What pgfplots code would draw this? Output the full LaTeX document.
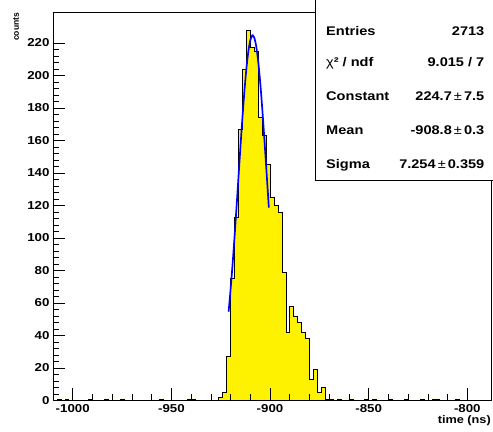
\documentclass[border=0pt]{standalone}
\usepackage{fontspec}
\setmainfont{Liberation Sans}[FakeStretch=1.16]
\newfontfamily\plainsans{Liberation Sans}
\usepackage{pgfplots}
\pgfplotsset{compat=1.18}
\begin{document}
\begin{tikzpicture}[x=1bp,y=1bp]
\begin{axis}[
  scale only axis, width=438bp, height=388.5bp,
  xmin=-1010, xmax=-788, ymin=0, ymax=239,
  xtick={-1000,-950,-900,-850,-800},
  xticklabels={-1000,-950,-900,-850,-800},
  minor x tick num=4,
  ytick={0,20,40,60,80,100,120,140,160,180,200,220},
  yticklabels={0,20,40,60,80,100,120,140,160,180,200,220},
  minor y tick num=4,
  tick align=inside, tick pos=left,
  major tick length=12bp, minor tick length=6bp,
  tick style={black, line width=0.6bp},
  axis line style={line width=0.8bp},
  ticklabel style={font=\fontsize{11.5}{12}\selectfont\bfseries},
  axis on top,
]
\coordinate (bl) at (rel axis cs:0,0);
\addplot[const plot, fill=yellow, draw=black, line width=0.6bp] table {
x y
-1010 0
-1008 1
-1006 0
-1004 1
-1002 0
-992 1
-990 0
-984 1
-982 0
-976 1
-974 0
-956 1
-954 0
-942 1
-940 1
-938 0
-926 2
-924 5
-922 27
-920 75
-918 113
-916 167
-914 204
-912 228
-910 217
-908 215
-906 174
-904 163
-902 145
-900 125
-898 120
-896 116
-894 79
-892 42
-890 58
-888 52
-886 48
-884 42
-882 38
-880 13
-878 19
-876 5
-874 8
-872 1
-870 1
-868 0
-866 1
-864 0
-860 1
-858 0
-852 1
-850 0
-848 1
-846 0
-840 1
-838 0
-832 1
-830 0
-824 1
-822 0
-818 1
-816 1
-814 0
-806 1
-804 0
-788 0
} \closedcycle;
\addplot[blue, line width=1.7bp, smooth] coordinates {
(-921,54.6) (-920,68.2) (-919,83.6) (-918,100.5) (-917,118.6) (-916,137.3)
(-915,155.9) (-914,173.8) (-913,190.0) (-912,203.9) (-911,214.6) (-910,221.6)
(-909,224.6) (-908.8,224.7) (-908,223.3) (-907,217.9) (-906,208.6) (-905,195.9)
(-904,180.5) (-903,163.2) (-902,144.8) (-901,126.1) (-900.6,118.6)
};
\end{axis}
\begin{scope}[shift={([shift={(-53,-31.5)}]bl)}]
\node[anchor=north east, inner sep=0pt, font=\fontsize{11}{12}\selectfont\bfseries] at (491,16.5) {time (ns)};
\node[rotate=90, anchor=east, inner sep=0pt, font=\plainsans\fontsize{8.6}{10}\selectfont\bfseries] at (16,419.5) {counts};
\draw[fill=white, line width=0.8bp] (315,252) rectangle (494,434);
\begin{scope}[every node/.style={inner sep=0pt, font=\fontsize{12.6}{14}\selectfont\bfseries}]
\node[anchor=base west] at (326,396.5) {Entries};
\node[anchor=base east] at (484.5,396.5) {2713};
\node[anchor=base west] at (326,365) {{\mdseries χ}² / ndf};
\node[anchor=base east] at (484.5,365) {9.015 / 7};
\node[anchor=base west] at (326,331.5) {Constant};
\node[anchor=base east] at (484.5,331.5) {224.7{\mdseries\,±\,}7.5};
\node[anchor=base west] at (326,297) {Mean};
\node[anchor=base east] at (484.5,297) {-908.8{\mdseries\,±\,}0.3};
\node[anchor=base west] at (326,263) {Sigma};
\node[anchor=base east] at (484.5,263) {7.254{\mdseries\,±\,}0.359};
\end{scope}
\end{scope}
\pgfresetboundingbox
\path[use as bounding box] ([shift={(-53,-31.5)}]bl) rectangle ([shift={(440,400.5)}]bl);
\end{tikzpicture}
\end{document}
